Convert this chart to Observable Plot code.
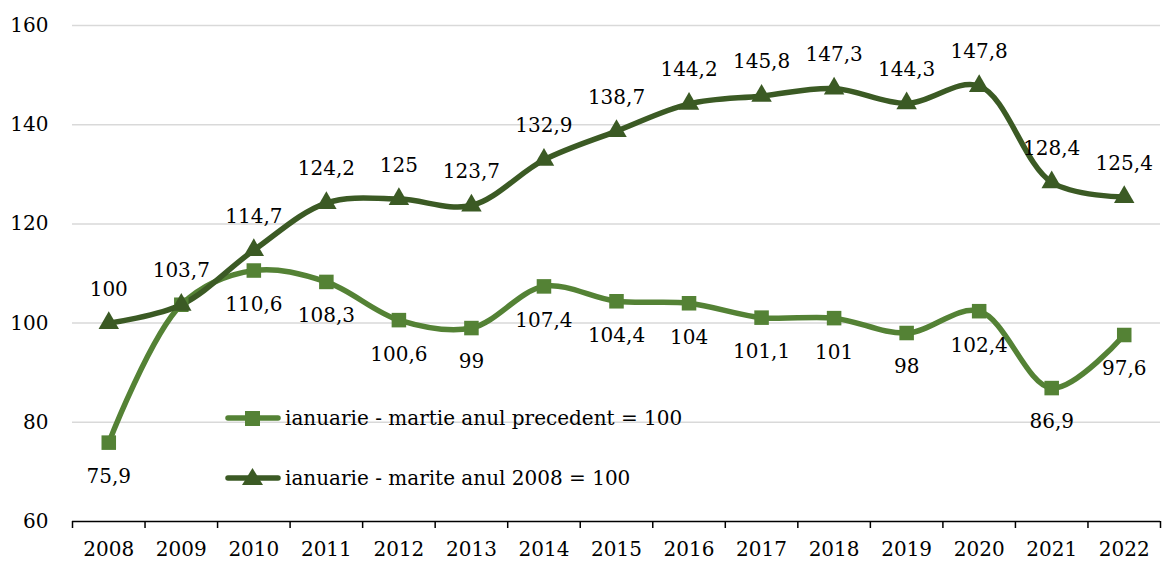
<!DOCTYPE html>
<html>
<head>
<meta charset="utf-8">
<script src="https://cdn.jsdelivr.net/npm/d3@7"></script>
<script src="https://cdn.jsdelivr.net/npm/@observablehq/plot@0.6"></script>
<style>
  html, body { margin: 0; padding: 0; background: #fff; }
  #wrap { position: relative; width: 1163px; height: 561px; font-family: "DejaVu Serif", serif; }
  #legend { position: absolute; left: 225px; top: 0; font-size: 20px; color: #000; }
  .item { position: absolute; left: 0; display: flex; align-items: center; white-space: nowrap; }
  .item svg { display: block; margin-right: 4px; }
</style>
</head>
<body>
<div id="wrap"></div>
<script>
const years = ["2008","2009","2010","2011","2012","2013","2014","2015","2016","2017","2018","2019","2020","2021","2022"];
const prevYear = [75.9, 103.7, 110.6, 108.3, 100.6, 99, 107.4, 104.4, 104, 101.1, 101, 98, 102.4, 86.9, 97.6];
const base2008 = [100, 103.7, 114.7, 124.2, 125, 123.7, 132.9, 138.7, 144.2, 145.8, 147.3, 144.3, 147.8, 128.4, 125.4];
const seriesNames = ["ianuarie - martie anul precedent = 100", "ianuarie - marite anul 2008 = 100"];
const yTicks = [60, 80, 100, 120, 140, 160];

const lightColor = "#548235";
const darkColor = "#3b5a24";

const light = prevYear.map((v, i) => ({i, v}));
const dark = base2008.map((v, i) => ({i, v}));
// 2009 value identical in both series: only one label shown
const lightLabels = light.filter(d => d.i !== 1);
const fmt = v => String(v).replace(".", ",");
const n = years.length;

const chart = Plot.plot({
  width: 1163,
  height: 561,
  marginLeft: 72,
  marginRight: 3,
  marginTop: 25,
  marginBottom: 40,
  style: {fontFamily: "DejaVu Serif, serif", fontSize: "20px", color: "#000", background: "#fff"},
  x: {type: "linear", domain: [-0.5, n - 0.5]},
  y: {domain: [60, 160]},
  marks: [
    Plot.gridY(yTicks.filter(t => t > 60), {stroke: "#d9d9d9", strokeOpacity: 1, strokeWidth: 1.5}),
    Plot.axisY(yTicks, {tickSize: 0, tickPadding: 24, label: null, fontSize: 20}),
    Plot.ruleY([60], {stroke: "#000", strokeWidth: 1.5}),
    Plot.axisX(d3.range(n + 1).map(i => i - 0.5), {tickSize: 7, strokeWidth: 1.5, tickFormat: () => "", label: null}),
    Plot.axisX(d3.range(n), {tickSize: 0, tickPadding: 20, tickFormat: i => years[i], label: null, fontSize: 20}),
    Plot.line(light, {x: "i", y: "v", curve: "catmull-rom", stroke: lightColor, strokeWidth: 5.5, strokeLinecap: "round"}),
    Plot.line(dark, {x: "i", y: "v", curve: "catmull-rom", stroke: darkColor, strokeWidth: 5.5, strokeLinecap: "round"}),
    Plot.dot(light, {x: "i", y: "v", symbol: "square", r: 8.2, fill: lightColor, stroke: "none"}),
    Plot.dot(dark, {x: "i", y: "v", symbol: "triangle", r: 7.6, fill: darkColor, stroke: "none"}),
    Plot.text(dark, {x: "i", y: "v", text: d => fmt(d.v), dy: -34, fontSize: 20, fill: "#000"}),
    Plot.text(lightLabels, {x: "i", y: "v", text: d => fmt(d.v), dy: 34, fontSize: 20, fill: "#000"})
  ]
});

const wrap = document.getElementById("wrap");
wrap.appendChild(chart);

const legend = document.createElement("div");
legend.id = "legend";
const items = [
  {name: seriesNames[0], color: lightColor, shape: "square", top: 404},
  {name: seriesNames[1], color: darkColor, shape: "triangle", top: 464}
];
for (const it of items) {
  const row = document.createElement("div");
  row.className = "item";
  row.style.top = it.top + "px";
  const marker = it.shape === "square"
    ? `<rect x="20" y="7" width="15" height="15" fill="${it.color}"/>`
    : `<path d="M27.5,4 L38,21 L17,21 Z" fill="${it.color}"/>`;
  row.innerHTML = `<svg width="56" height="28"><line x1="3" y1="14" x2="53" y2="14" stroke="${it.color}" stroke-width="5.5" stroke-linecap="round"/>${marker}</svg><span>${it.name}</span>`;
  legend.appendChild(row);
}
wrap.appendChild(legend);
</script>
</body>
</html>
